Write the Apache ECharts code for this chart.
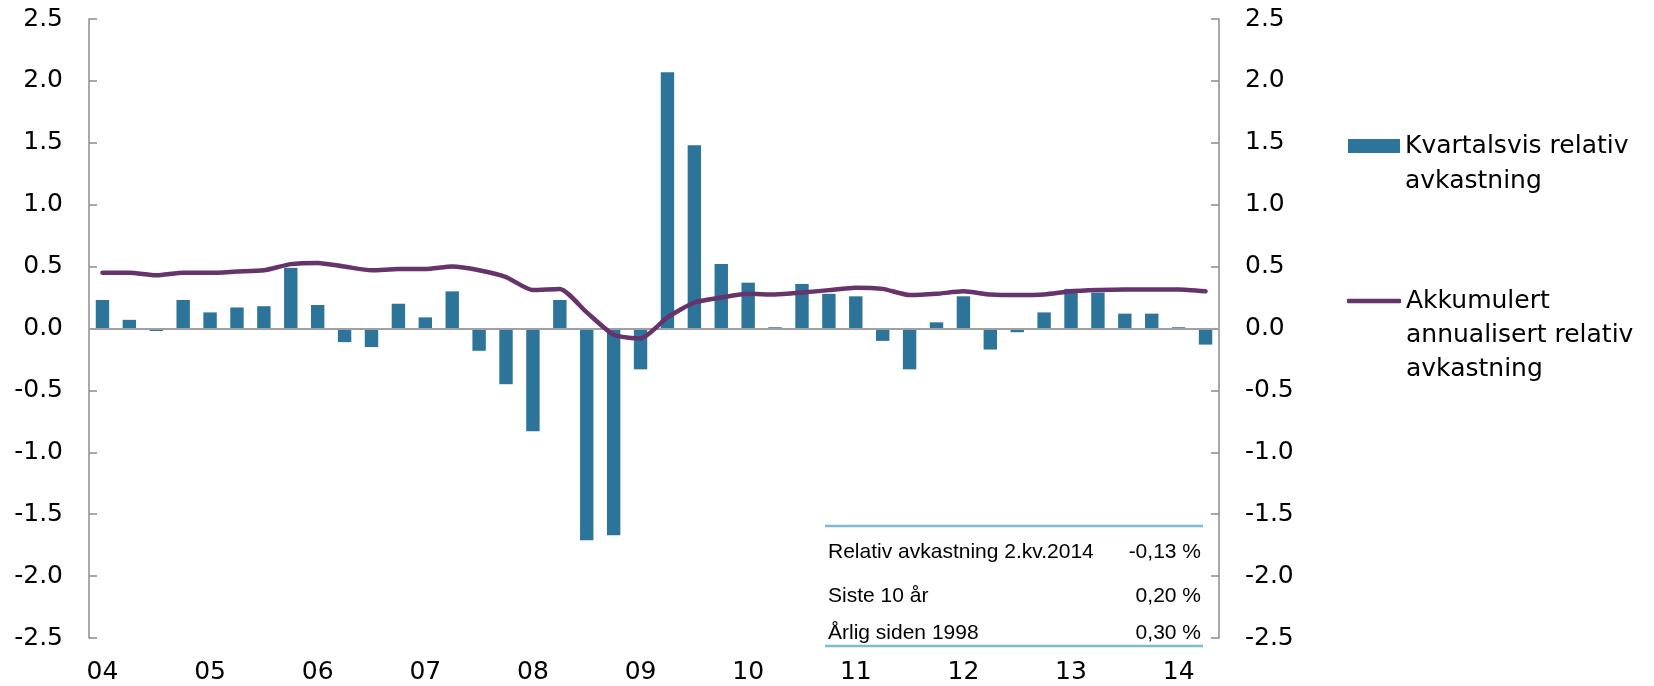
<!DOCTYPE html>
<html>
<head>
<meta charset="utf-8">
<script src="https://cdn.jsdelivr.net/npm/echarts@6/dist/echarts.min.js"></script>
<style>
html,body{margin:0;padding:0;background:#fff;}
#chart{width:1654px;height:686px;}
</style>
</head>
<body>
<div id="chart"></div>
<script>
// Quarters 2004 K1 .. 2014 K2
const quarters = [];
for (let y = 2004; y <= 2014; y++) {
  for (let q = 1; q <= 4; q++) {
    if (y === 2014 && q > 2) break;
    quarters.push(y + ' K' + q);
  }
}
const yearLabels = ['04','05','06','07','08','09','10','11','12','13','14'];

const quarterlyRelative = [
  0.23, 0.07, -0.02, 0.23,
  0.13, 0.17, 0.18, 0.49,
  0.19, -0.11, -0.15, 0.20,
  0.09, 0.30, -0.18, -0.45,
  -0.83, 0.23, -1.71, -1.67,
  -0.33, 2.07, 1.48, 0.52,
  0.37, 0.01, 0.36, 0.28,
  0.26, -0.10, -0.33, 0.05,
  0.26, -0.17, -0.03, 0.13,
  0.32, 0.29, 0.12, 0.12,
  0.01, -0.13
];

const accumulatedAnnualized = [
  0.45, 0.45, 0.43, 0.45,
  0.45, 0.46, 0.47, 0.52,
  0.53, 0.50, 0.47, 0.48,
  0.48, 0.50, 0.47, 0.415,
  0.31, 0.32, 0.13, -0.05,
  -0.08, 0.09, 0.21, 0.25,
  0.28, 0.275, 0.29, 0.31,
  0.33, 0.32, 0.27, 0.28,
  0.30, 0.275, 0.27, 0.275,
  0.30, 0.31, 0.315, 0.315,
  0.315, 0.30
];

const yTicks = { min: -2.5, max: 2.5, interval: 0.5 };

const tableRows = [
  ['Relativ avkastning 2.kv.2014', '-0,13 %'],
  ['Siste 10 år', '0,20 %'],
  ['Årlig siden 1998', '0,30 %']
];

const seriesNames = ['Kvartalsvis relativ\navkastning', 'Akkumulert\nannualisert relativ\navkastning'];

const BAR = '#2C7499';
const LINE = '#66336A';
const AXIS = '#8C8C8C';
const TABLE_LINE = '#7BBAD4';
const FONT = 'DejaVu Sans';

const chart = echarts.init(document.getElementById('chart'), null, { renderer: 'canvas' });

const yAxisCommon = {
  type: 'value',
  min: yTicks.min, max: yTicks.max, interval: yTicks.interval,
  splitLine: { show: false },
  axisLine: { show: true, lineStyle: { color: AXIS, width: 1.5 } },
  axisTick: { show: true, inside: true, length: 8, lineStyle: { color: AXIS, width: 1.5 } },
  axisLabel: {
    fontFamily: FONT, fontSize: 25, color: '#000', margin: 26,
    formatter: v => v.toFixed(1)
  }
};

const tableGraphics = [
  { type: 'line', shape: { x1: 825, y1: 526, x2: 1203, y2: 526 }, style: { stroke: TABLE_LINE, lineWidth: 2.5 } },
  { type: 'line', shape: { x1: 825, y1: 646, x2: 1203, y2: 646 }, style: { stroke: TABLE_LINE, lineWidth: 2.5 } }
];
const rowY = [552, 596, 633];
tableRows.forEach((r, i) => {
  tableGraphics.push({ type: 'text', x: 828, y: rowY[i], style: { text: r[0], font: '21px "Liberation Sans", Arial, sans-serif', fill: '#000', textAlign: 'left', textVerticalAlign: 'middle' } });
  tableGraphics.push({ type: 'text', x: 1201, y: rowY[i], style: { text: r[1], font: '21px "Liberation Sans", Arial, sans-serif', fill: '#000', textAlign: 'right', textVerticalAlign: 'middle' } });
});

// put the first line of a multi-line legend name on the icon's centre line
const alignFirstLine = name => {
  const lines = name.split('\n');
  return new Array(lines.length - 1).fill(' ').concat(lines).join('\n');
};

chart.setOption({
  animation: false,
  backgroundColor: '#fff',
  grid: { left: 89, right: 435, top: 19, bottom: 48, containLabel: false },
  legend: [
    {
      data: [{ name: seriesNames[0], icon: 'rect' }],
      orient: 'vertical', left: 1348, top: 93.5, padding: 0,
      itemWidth: 52, itemHeight: 14, selectedMode: false,
      formatter: alignFirstLine,
      textStyle: { fontFamily: FONT, fontSize: 25, color: '#000', lineHeight: 35 }
    },
    {
      data: [{ name: seriesNames[1], icon: 'roundRect' }],
      orient: 'vertical', left: 1347, top: 216, padding: 0,
      itemWidth: 54, itemHeight: 4.5, selectedMode: false,
      formatter: alignFirstLine,
      textStyle: { fontFamily: FONT, fontSize: 25, color: '#000', lineHeight: 34 }
    }
  ],
  xAxis: {
    type: 'category',
    data: quarters,
    boundaryGap: true,
    axisLine: { show: false },
    axisTick: { show: false },
    axisLabel: {
      fontFamily: FONT, fontSize: 25, color: '#000', margin: 22,
      interval: 0,
      formatter: (v, i) => (i % 4 === 0 ? yearLabels[i / 4] : '')
    },
    splitLine: { show: false }
  },
  yAxis: [
    Object.assign({ position: 'left' }, yAxisCommon),
    Object.assign({ position: 'right' }, yAxisCommon)
  ],
  series: [
    {
      name: seriesNames[0],
      type: 'bar',
      data: quarterlyRelative,
      barWidth: 13.4,
      itemStyle: { color: BAR },
      z: 2,
      markLine: {
        silent: true,
        symbol: ['none', 'none'],
        label: { show: false },
        lineStyle: { color: '#A0A0A0', width: 2, type: 'solid' },
        data: [{ yAxis: 0 }],
        z: 3
      }
    },
    {
      name: seriesNames[1],
      type: 'line',
      data: accumulatedAnnualized,
      symbol: 'none',
      smooth: 0.2,
      lineStyle: { color: LINE, width: 4.5, cap: 'round', join: 'round' },
      itemStyle: { color: LINE },
      z: 5
    }
  ],
  graphic: tableGraphics
});
</script>
</body>
</html>
